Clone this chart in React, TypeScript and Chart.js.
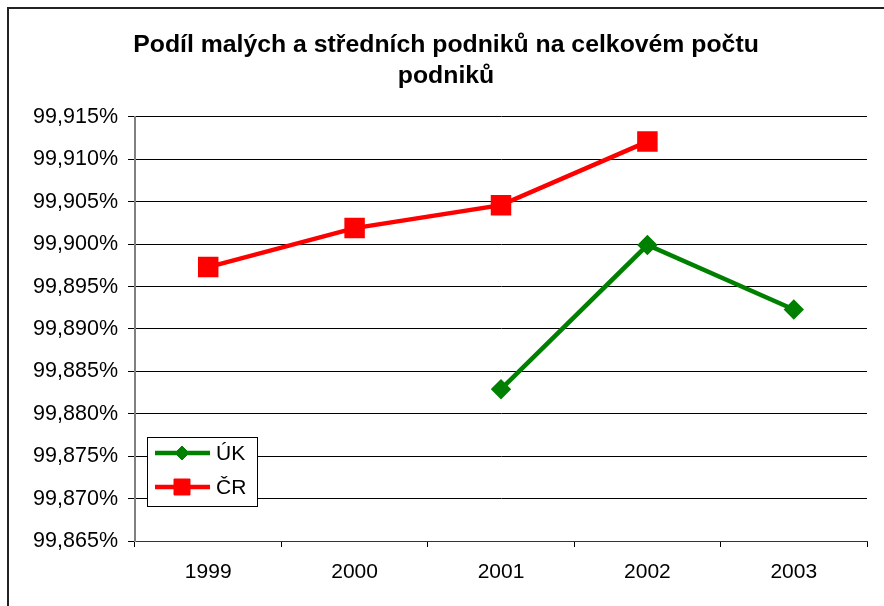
import React, { useEffect, useRef } from 'react';
import { Chart, registerables } from 'chart.js';
import { drawPoint } from 'chart.js/helpers';

Chart.register(...registerables);

const years = ['1999', '2000', '2001', '2002', '2003'];
const ukValues = [null, null, 99.8829, 99.8999, 99.8923];
const crValues = [99.8973, 99.9019, 99.9046, 99.9121, null];
const yTickValues = [99.865, 99.87, 99.875, 99.88, 99.885, 99.89, 99.895, 99.9, 99.905, 99.91, 99.915];
const titleLines = ['Podíl malých a středních podniků na celkovém počtu', 'podniků'];
const seriesNames = ['ÚK', 'ČR'];

const FONT = '"Liberation Sans", Arial, sans-serif';

const framePlugin = {
  id: 'frame',
  afterLayout(chart: any) {
    const tb = chart.titleBlock;
    if (tb) {
      tb.left = 0;
      tb.right = 892;
    }
  },
  beforeDraw(chart: any) {
    const ctx = chart.ctx;
    ctx.save();
    ctx.fillStyle = '#ffffff';
    ctx.fillRect(0, 0, chart.width, chart.height);
    ctx.restore();
  },
  afterDraw(chart: any) {
    const ctx = chart.ctx;
    ctx.save();
    ctx.strokeStyle = '#222222';
    ctx.lineWidth = 2;
    ctx.beginPath();
    ctx.moveTo(8, chart.height + 2);
    ctx.lineTo(8, 8);
    ctx.lineTo(chart.width + 2, 8);
    ctx.stroke();
    ctx.restore();
  },
};

const insideLegend = {
  id: 'insideLegend',
  afterDraw(chart: any) {
    const ctx = chart.ctx;
    const area = chart.chartArea;
    const bx = area.left + 12;
    const by = area.bottom - 104;
    const w = 110;
    const h = 69;
    ctx.save();
    ctx.fillStyle = '#ffffff';
    ctx.fillRect(bx, by, w, h);
    ctx.strokeStyle = '#000000';
    ctx.lineWidth = 1;
    ctx.strokeRect(bx + 0.5, by + 0.5, w, h);
    chart.data.datasets.forEach((ds: any, i: number) => {
      const y = by + 16 + i * 34;
      ctx.strokeStyle = ds.borderColor;
      ctx.lineWidth = ds.borderWidth;
      ctx.beginPath();
      ctx.moveTo(bx + 8, y);
      ctx.lineTo(bx + 63, y);
      ctx.stroke();
      ctx.fillStyle = ds.pointBackgroundColor;
      ctx.strokeStyle = ds.pointBorderColor;
      ctx.lineWidth = 1;
      drawPoint(ctx, { pointStyle: ds.pointStyle, rotation: 0, borderWidth: 1, radius: ds.pointRadius } as any, bx + 35, y);
      ctx.fillStyle = '#000000';
      ctx.font = `21px ${FONT}`;
      ctx.textAlign = 'left';
      ctx.textBaseline = 'middle';
      ctx.fillText(ds.label, bx + 69, y + 1);
    });
    ctx.restore();
  },
};

export default function App() {
  const ref = useRef<HTMLCanvasElement | null>(null);

  useEffect(() => {
    if (!ref.current) return;
    const chart = new Chart(ref.current, {
      type: 'line',
      data: {
        labels: years,
        datasets: [
          {
            label: seriesNames[0],
            data: ukValues,
            borderColor: '#008000',
            backgroundColor: '#008000',
            pointBackgroundColor: '#008000',
            pointBorderColor: '#008000',
            borderWidth: 4.5,
            pointStyle: 'rectRot',
            pointRadius: 7,
            pointHoverRadius: 7,
            spanGaps: false,
            tension: 0,
          },
          {
            label: seriesNames[1],
            data: crValues,
            borderColor: '#ff0000',
            backgroundColor: '#ff0000',
            pointBackgroundColor: '#ff0000',
            pointBorderColor: '#ff0000',
            borderWidth: 4.5,
            pointStyle: 'rect',
            pointRadius: 11.3,
            pointHoverRadius: 11.3,
            spanGaps: false,
            tension: 0,
          },
        ],
      },
      options: {
        responsive: false,
        animation: false,
        layout: { padding: { left: 0, right: 17, top: 0, bottom: 0 } },
        plugins: {
          legend: { display: false },
          tooltip: { enabled: false },
          title: {
            display: true,
            text: titleLines,
            color: '#000000',
            font: { family: FONT, size: 24.8, weight: 'bold', lineHeight: 1.27 },
            padding: { top: 29, bottom: 25 },
          },
        },
        scales: {
          x: {
            type: 'category',
            offset: true,
            grid: {
              offset: true,
              drawOnChartArea: false,
              drawTicks: true,
              tickLength: 6,
              color: '#000000',
              lineWidth: 1,
            },
            border: { display: true, color: '#333333', width: 1 },
            ticks: {
              color: '#000000',
              font: { family: FONT, size: 21 },
              padding: 13,
              maxRotation: 0,
              autoSkip: false,
            },
            afterFit: (s: any) => {
              s.height = 65;
            },
          },
          y: {
            min: 99.865,
            max: 99.915,
            afterBuildTicks: (s: any) => {
              s.ticks = yTickValues.map((v) => ({ value: v }));
            },
            grid: {
              color: '#000000',
              lineWidth: 1,
              drawTicks: true,
              tickLength: 7,
            },
            border: { display: true, color: '#808080', width: 2 },
            ticks: {
              color: '#000000',
              font: { family: FONT, size: 21.5 },
              padding: 10,
              callback: (v: any) => Number(v).toFixed(3).replace('.', ',') + '%',
            },
            afterFit: (s: any) => {
              s.width = 135;
            },
          },
        },
      },
      plugins: [framePlugin, insideLegend],
    });
    return () => chart.destroy();
  }, []);

  return (
    <div style={{ position: 'absolute', left: 0, top: 0, width: 884, height: 606, background: '#fff' }}>
      <canvas ref={ref} width={884} height={606} style={{ display: 'block', width: 884, height: 606 }} />
    </div>
  );
}
